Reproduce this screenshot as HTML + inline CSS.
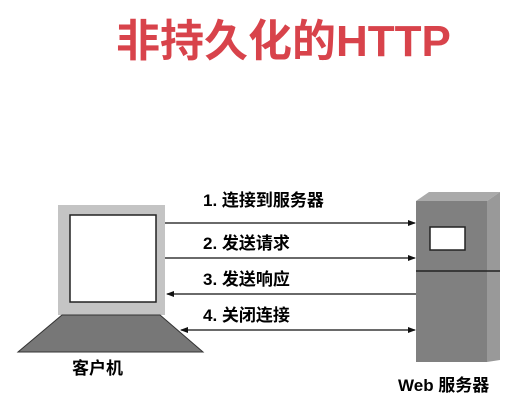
<!DOCTYPE html><html><head><meta charset="utf-8"><style>
body{margin:0;width:527px;height:407px;background:#fff;overflow:hidden;position:relative;font-family:"Liberation Sans","Noto Sans CJK SC",sans-serif}
.t{position:absolute;white-space:nowrap;font-weight:bold}
</style></head><body>
<div class="t" style="left:116px;top:16px;font-size:44px;color:#d8434b;line-height:52px">非持久化的HTTP</div>
<svg width="527" height="407" style="position:absolute;left:0;top:0">
<defs><marker id="a" markerWidth="8" markerHeight="8" refX="7" refY="4" orient="auto-start-reverse" markerUnits="userSpaceOnUse"><path d="M0,1 L8,4 L0,7Z" fill="#111"/></marker></defs>
<rect x="58" y="205" width="107" height="110" fill="#c4c4c4"/>
<rect x="70" y="215" width="86" height="87" fill="#fff" stroke="#222" stroke-width="1.5"/>
<polygon points="62,315 160,315 203,352 18,352" fill="#777" stroke="#333" stroke-width="1"/>
<polygon points="416,201 487,201 500,192 429,192" fill="#aaa"/>
<polygon points="487,201 500,192 500,360 487,362" fill="#999"/>
<rect x="416" y="201" width="71" height="161" fill="#808080"/>
<line x1="416" y1="271" x2="500" y2="271" stroke="#222" stroke-width="1.5"/>
<rect x="430" y="227" width="35" height="23" fill="#fff" stroke="#222" stroke-width="1.5"/>
<g stroke="#111" stroke-width="1.2">
<line x1="165" y1="223" x2="415" y2="223" marker-end="url(#a)"/>
<line x1="165" y1="258" x2="415" y2="258" marker-end="url(#a)"/>
<line x1="416" y1="294" x2="167" y2="294" marker-end="url(#a)"/>
<line x1="181" y1="330" x2="415" y2="330" marker-start="url(#a)" marker-end="url(#a)"/>
</g></svg>
<div class="t" style="left:203px;top:186px;font-size:17px">1. 连接到服务器</div>
<div class="t" style="left:203px;top:229px;font-size:17px">2. 发送请求</div>
<div class="t" style="left:203px;top:265px;font-size:17px">3. 发送响应</div>
<div class="t" style="left:203px;top:301px;font-size:17px">4. 关闭连接</div>
<div class="t" style="left:72px;top:354px;font-size:17px">客户机</div>
<div class="t" style="left:398px;top:371px;font-size:17px">Web 服务器</div>
</body></html>
